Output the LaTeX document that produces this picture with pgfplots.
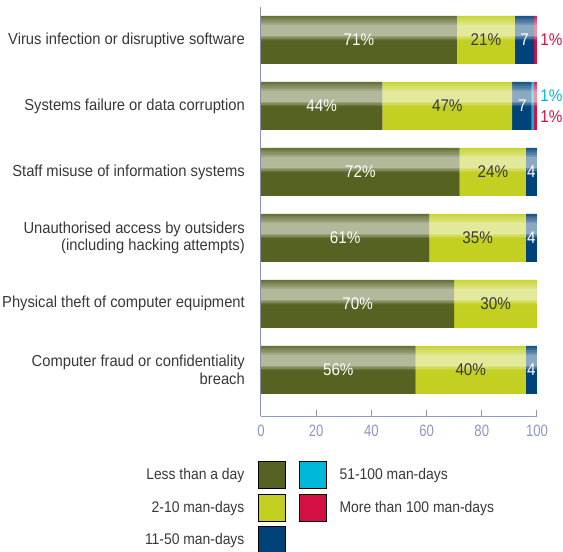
\documentclass[border=0pt]{standalone}
\usepackage{fontspec}
\setmainfont{Liberation Sans}[FakeStretch=0.9]
\newfontfamily\narrowfont{Liberation Sans}[FakeStretch=0.8]
\newfontfamily\catfont{Liberation Sans}[FakeStretch=0.925]
\usepackage{pgfplots}
\pgfplotsset{compat=1.18}

\definecolor{cOlive}{HTML}{556221}
\definecolor{cLime}{HTML}{C3D021}
\definecolor{cNavy}{HTML}{00427A}
\definecolor{cCyan}{HTML}{00B8DA}
\definecolor{cCrim}{HTML}{D30F44}
\definecolor{axisc}{HTML}{8E96C2}
\definecolor{txt}{HTML}{383838}

\pgfplotsset{
  base/.style={
    scale only axis, width=276bp, height=409bp,
    xmin=0, xmax=100, ymin=-0.7, ymax=5.5,
    clip=false,
  },
  swatch/.style={legend image code/.code={\fill[##1] (0bp,-13.5bp) rectangle (27bp,13.5bp);}},
  lab/.style={draw=none, mark=none, nodes near coords, point meta=explicit symbolic,
    every node near coord/.append style={anchor=center, text=#1,
      font=\fontsize{17}{19}\selectfont}},
}
% white strip across every bar (all bars total 100) for the glossy look
\newcommand\gloss[3]{\addplot[forget plot, xbar, draw=none, fill=white,
  fill opacity=#3, bar width=#1bp, bar shift=#2bp] coordinates
  {(100,0) (100,1) (100,2) (100,3) (100,4) (100,5)};}

\begin{document}
\begin{tikzpicture}
\useasboundingbox (-261bp,-136bp) rectangle (302bp,416bp);
\begin{axis}[base,
  xbar stacked, bar width=48bp,
  axis x line*=bottom, axis y line*=left,
  axis line style={axisc, line width=1bp},
  xtick={0,20,...,100},
  tick align=inside, major tick length=6bp,
  xtick style={axisc, line width=1bp},
  ytick={0,...,5},
  yticklabels={{Computer fraud or confidentiality\\breach},
    Physical theft of computer equipment,
    {Unauthorised access by outsiders\\(including hacking attempts)},
    Staff misuse of information systems,
    Systems failure or data corruption,
    Virus infection or disruptive software},
  ytick style={draw=none},
  yticklabel style={align=right, text=txt, inner sep=0pt,
    font=\catfont\fontsize{16}{17.5}\selectfont},
  yticklabel shift=16bp,
  xticklabel style={text=axisc, inner sep=0pt, font=\narrowfont\fontsize{16.5}{18}\selectfont},
  xticklabel shift=8.5bp,
  /pgf/number format/assume math mode=true,
  swatch,
  legend plot pos=right, legend cell align=right,
  legend style={at={(0.0906,-0.110)}, anchor=north east, draw=none, fill=none,
    inner sep=0pt, row sep=5bp, column sep=14bp,
    nodes={inner sep=0pt, text=txt, font=\fontsize{15.5}{17}\selectfont}},
]
\addplot[forget plot, draw=none, fill=cOlive] coordinates
  {(71,5) (44,4) (72,3) (61,2) (70,1) (56,0)};
\addplot[forget plot, draw=none, fill=cLime] coordinates
  {(21,5) (47,4) (24,3) (35,2) (30,1) (40,0)};
\addplot[forget plot, draw=none, fill=cNavy] coordinates
  {(7,5) (7,4) (4,3) (4,2) (0,1) (4,0)};
\addplot[forget plot, draw=none, fill=cCyan] coordinates
  {(0,5) (1,4) (0,3) (0,2) (0,1) (0,0)};
\addplot[forget plot, draw=none, fill=cCrim] coordinates
  {(1,5) (1,4) (0,3) (0,2) (0,1) (0,0)};
\addlegendimage{fill=cOlive}
\addlegendentry{Less than a day}
\addlegendimage{fill=cLime}
\addlegendentry{2-10 man-days}
\addlegendimage{fill=cNavy}
\addlegendentry{11-50 man-days}
\end{axis}

\begin{axis}[base, hide axis, swatch,
  legend plot pos=left, legend cell align=left,
  legend style={at={(0.1377,-0.110)}, anchor=north west, draw=none, fill=none,
    inner sep=0pt, row sep=5bp, column sep=13bp,
    nodes={inner sep=0pt, text=txt, font=\fontsize{15.5}{17}\selectfont}},
]
\gloss{2}{23}{0.1}
\gloss{2}{21}{0.2}
\gloss{2.5}{18.75}{0.3}
\gloss{2.5}{16.25}{0.42}
\gloss{11}{9.5}{0.55}
\gloss{1.5}{3.25}{0.4}
\gloss{1.5}{1.75}{0.25}
\gloss{1.5}{0.25}{0.1}
\addplot[forget plot, lab=white] table[meta=lab, row sep=\\] {
  x y lab\\
  35.5 5 71\%\\ 95.5 5 7\\
  22 4 44\%\\ 94.7 4 7\\
  36 3 72\%\\ 98 3 4\\
  30.5 2 61\%\\ 98 2 4\\
  35 1 70\%\\
  28 0 56\%\\ 98 0 4\\
};
\addplot[forget plot, lab=txt] table[meta=lab, row sep=\\] {
  x y lab\\
  81.5 5 21\%\\ 67.5 4 47\%\\ 84 3 24\%\\ 78.5 2 35\%\\ 85 1 30\%\\ 76 0 40\%\\
};
\addplot[forget plot, lab=cCrim] table[meta=lab, row sep=\\] {
  x y lab\\
  105.2 5 1\%\\ 105.2 3.83 1\%\\
};
\addplot[forget plot, lab=cCyan] table[meta=lab, row sep=\\] {
  x y lab\\
  105.2 4.15 1\%\\
};
\addlegendimage{fill=cCyan}
\addlegendentry{51-100 man-days}
\addlegendimage{fill=cCrim}
\addlegendentry{More than 100 man-days}
\end{axis}
\end{tikzpicture}
\end{document}
